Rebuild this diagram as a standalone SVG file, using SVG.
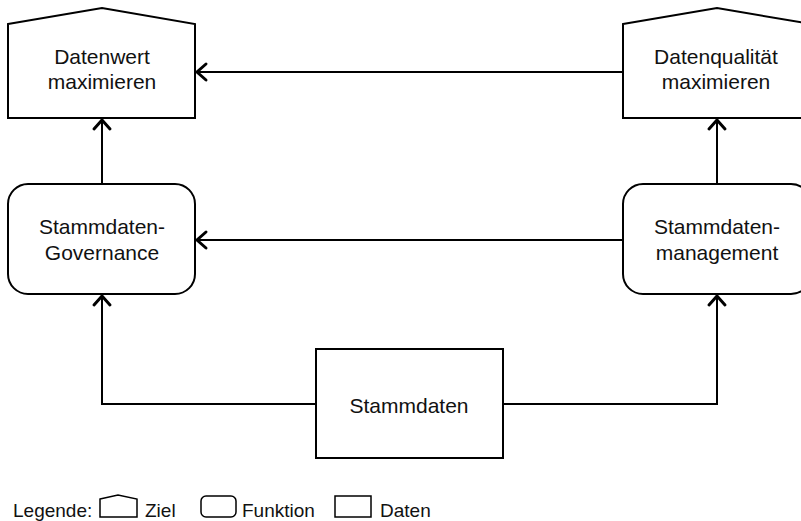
<svg xmlns="http://www.w3.org/2000/svg" width="801" height="521" viewBox="0 0 801 521">
<style>
.shape{fill:#fff;stroke:#000;stroke-width:2}
.lbl{font-family:"Liberation Sans",Arial,sans-serif;font-size:21px;fill:#111;text-anchor:middle}
.leg{font-family:"Liberation Sans",Arial,sans-serif;font-size:19px;fill:#111}
.conn{fill:none;stroke:#000;stroke-width:2}
.head{fill:none;stroke:#000;stroke-width:3;stroke-linecap:round;stroke-linejoin:miter}
</style>
<rect width="801" height="521" fill="#fff"/>
<g id="connectors">
<path class="conn" d="M623 72 H197"/>
<path class="head" d="M206 64 L197 72 L206 80"/>
<path class="conn" d="M623 240 H197"/>
<path class="head" d="M206 232 L197 240 L206 248"/>
<path class="conn" d="M102 184 V120"/>
<path class="head" d="M94 129 L102 120 L110 129"/>
<path class="conn" d="M717 184 V120"/>
<path class="head" d="M709 129 L717 120 L725 129"/>
<path class="conn" d="M316 404 H102 V296"/>
<path class="head" d="M94 305 L102 296 L110 305"/>
<path class="conn" d="M503 404 H717 V296"/>
<path class="head" d="M709 305 L717 296 L725 305"/>
</g>
<g id="datenwert">
<path class="shape" d="M8 24 L102 8 L195 24 V118 H8 Z"/>
<text class="lbl" x="102" y="64">Datenwert</text>
<text class="lbl" x="102" y="89">maximieren</text>
</g>
<g id="datenqualitaet">
<path class="shape" d="M623 24 L717 8 L811 24 V118 H623 Z"/>
<text class="lbl" x="716" y="64">Datenqualität</text>
<text class="lbl" x="716" y="89">maximieren</text>
</g>
<g id="governance">
<rect class="shape" x="8" y="184" width="187" height="110" rx="20" ry="20"/>
<text class="lbl" x="102" y="234">Stammdaten-</text>
<text class="lbl" x="102" y="260">Governance</text>
</g>
<g id="management">
<rect class="shape" x="623" y="184" width="188" height="110" rx="20" ry="20"/>
<text class="lbl" x="717" y="234">Stammdaten-</text>
<text class="lbl" x="717" y="260">management</text>
</g>
<g id="stammdaten">
<rect class="shape" x="316" y="349" width="187" height="109"/>
<text class="lbl" x="409" y="413">Stammdaten</text>
</g>
<g id="legend">
<text class="leg" x="13" y="517">Legende:</text>
<path fill="#fff" stroke="#000" stroke-width="1.5" d="M100 499 L118 495 L137 499 V517 H100 Z"/>
<text class="leg" x="145" y="517">Ziel</text>
<rect fill="#fff" stroke="#000" stroke-width="1.5" x="201" y="496" width="35" height="21" rx="5" ry="5"/>
<text class="leg" x="242" y="517">Funktion</text>
<rect fill="#fff" stroke="#000" stroke-width="1.5" x="335" y="496" width="36" height="21"/>
<text class="leg" x="380" y="517">Daten</text>
</g>
</svg>
